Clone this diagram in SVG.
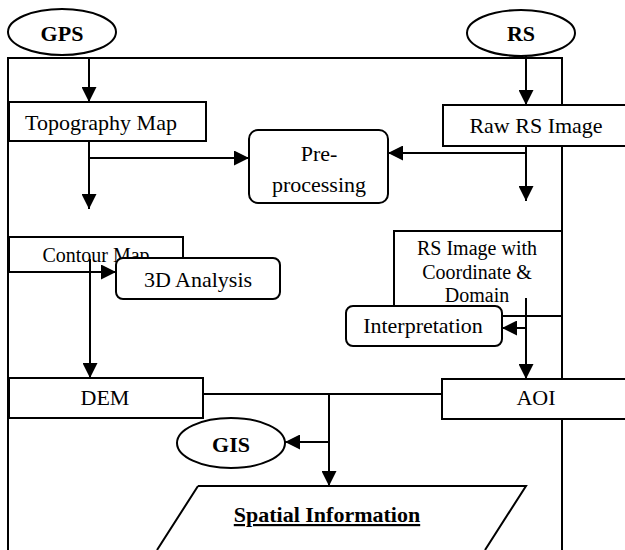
<svg xmlns="http://www.w3.org/2000/svg" width="625" height="550" viewBox="0 0 625 550">
<style>
.box{fill:#fff;stroke:#000;stroke-width:2}
.frame{fill:none;stroke:#000;stroke-width:2}
.c{fill:none;stroke:#000;stroke-width:2}
.t{font-family:"Liberation Serif","Times New Roman",serif;font-size:22px;fill:#000;text-anchor:middle}
.s{font-size:20px}
.b{font-weight:bold}
</style>
<defs>
<marker id="arr" viewBox="0 0 10 10" refX="10" refY="5" markerUnits="userSpaceOnUse" markerWidth="15" markerHeight="15" orient="auto">
<path d="M0,0 L10,5 L0,10 z" fill="#000"/>
</marker>
</defs>
<rect width="625" height="550" fill="#fff"/>
<path class="frame" d="M8,550 V58 H562 V550"/>
<g id="gps"><ellipse class="box" cx="62" cy="32" rx="54" ry="23"/><text class="t b" x="62" y="41">GPS</text></g>
<g id="rs"><ellipse class="box" cx="521" cy="33" rx="54" ry="23"/><text class="t b" x="521" y="41">RS</text></g>
<g id="topo"><rect class="box" x="9" y="102" width="197" height="39"/><text class="t" x="101" y="130">Topography Map</text></g>
<g id="raw"><rect class="box" x="443" y="105" width="190" height="41"/><text class="t" x="536" y="133">Raw RS Image</text></g>
<g id="pre"><rect class="box" x="249" y="130" width="139" height="73" rx="9"/><text class="t" x="319" y="161">Pre-</text><text class="t" x="319" y="192">processing</text></g>
<g id="contour"><rect class="box" x="9" y="237" width="174" height="35"/><text class="t s" x="96" y="262">Contour Map</text></g>
<g id="analysis3d"><rect class="box" x="116" y="258" width="164" height="41" rx="7"/><text class="t" x="198" y="287">3D Analysis</text></g>
<g id="rsimg"><rect class="box" x="394" y="231" width="168" height="85"/><text class="t s" x="477" y="255">RS Image with</text><text class="t s" x="477" y="279">Coordinate &amp;</text><text class="t s" x="477" y="302">Domain</text></g>
<g id="interp"><rect class="box" x="346" y="306" width="156" height="40" rx="7"/><text class="t" x="423" y="333">Interpretation</text></g>
<g id="dem"><rect class="box" x="9" y="378" width="194" height="40"/><text class="t" x="105" y="405">DEM</text></g>
<g id="aoi"><rect class="box" x="442" y="379" width="190" height="40"/><text class="t" x="536" y="405">AOI</text></g>
<g id="gis"><ellipse class="box" cx="231" cy="443" rx="54" ry="25"/><text class="t b" x="231" y="452">GIS</text></g>
<g id="spatial"><path class="box" d="M198,486 H526 L485,550 M157,550 L198,486"/><path d="M198,486 H526 L485,550 H157 Z" fill="none" stroke="none"/><text class="t b" x="327" y="522" text-decoration="underline">Spatial Information</text></g>
<g id="connectors">
<path class="c" d="M89,58 V102" marker-end="url(#arr)"/>
<path class="c" d="M89,141 V209" marker-end="url(#arr)"/>
<path class="c" d="M89,158 H249" marker-end="url(#arr)"/>
<path class="c" d="M526,56 V105" marker-end="url(#arr)"/>
<path class="c" d="M526,146 V201" marker-end="url(#arr)"/>
<path class="c" d="M526,153 H388" marker-end="url(#arr)"/>
<path class="c" d="M90,259 V378" marker-end="url(#arr)"/>
<path class="c" d="M90,272 H116" marker-end="url(#arr)"/>
<path class="c" d="M526,298 V379" marker-end="url(#arr)"/>
<path class="c" d="M526,328 H502" marker-end="url(#arr)"/>
<path class="c" d="M203,394 H442"/>
<path class="c" d="M329,394 V486" marker-end="url(#arr)"/>
<path class="c" d="M329,442 H285" marker-end="url(#arr)"/>
</g>
</svg>
